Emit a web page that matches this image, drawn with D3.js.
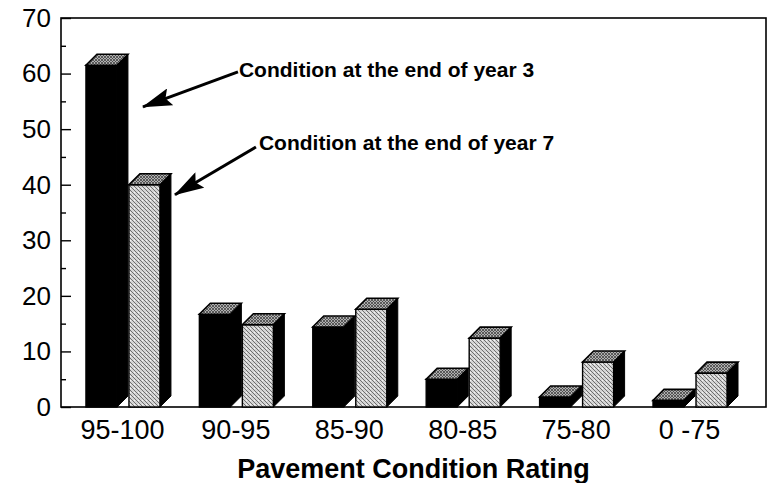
<!DOCTYPE html>
<html>
<head>
<meta charset="utf-8">
<script src="https://cdn.jsdelivr.net/npm/d3@7"></script>
<style>
  body { margin: 0; background: #fff; }
  svg { display: block; font-family: "Liberation Sans", Arial, Helvetica, sans-serif; }
</style>
</head>
<body>
<svg id="chart" width="767" height="483"></svg>
<script>
// DATA
// --------------------------------------
var categories = ['95-100', '90-95', '85-90', '80-85', '75-80', '0 -75'];
var year3 = [61.5, 16.7, 14.4, 5.0, 1.8, 1.2];
var year7 = [40.0, 14.8, 17.6, 12.4, 8.1, 6.1];
var majorTicks = [0, 10, 20, 30, 40, 50, 60, 70];
var minorTicks = [5, 15, 25, 35, 45, 55, 65];
var labels = ['Condition at the end of year 3', 'Condition at the end of year 7'];
var xTitle = 'Pavement Condition Rating';

// CONFIG
// --------------------------------------
var CONFIG = {
    left: 61, right: 766, top: 18, bottom: 407,
    barW: 31,   // front face width
    dx: 11,     // depth offset
    dy: 11
};

var svg = d3.select('#chart');

var x = d3.scaleBand()
    .domain(categories)
    .range([CONFIG.left, 751])
    .paddingInner(0.356)
    .paddingOuter(0.22);

var y = d3.scaleLinear()
    .domain([0, 70])
    .range([CONFIG.bottom, CONFIG.top]);

// patterns for the grey textures
var defs = svg.append('defs');

var pLight = defs.append('pattern')
    .attr('id', 'lightFill')
    .attr('patternUnits', 'userSpaceOnUse')
    .attr('width', 4).attr('height', 4);
pLight.append('rect').attr('width', 4).attr('height', 4).attr('fill', '#d4d4d4');
pLight.append('path').attr('d', 'M0,0 L4,4 M-1,3 L1,5 M3,-1 L5,1')
    .attr('stroke', '#6e6e6e').attr('stroke-width', 1);
pLight.append('rect').attr('x', 2).attr('y', 0).attr('width', 1).attr('height', 1).attr('fill', '#f4f4f4');

var pTop = defs.append('pattern')
    .attr('id', 'topFill')
    .attr('patternUnits', 'userSpaceOnUse')
    .attr('width', 3).attr('height', 3);
pTop.append('rect').attr('width', 3).attr('height', 3).attr('fill', '#b0b0b0');
pTop.append('path').attr('d', 'M0,0 L3,3 M3,0 L0,3')
    .attr('stroke', '#444').attr('stroke-width', 0.8);

defs.append('marker')
    .attr('id', 'arrowHead')
    .attr('markerUnits', 'userSpaceOnUse')
    .attr('viewBox', '0 0 30 18')
    .attr('markerWidth', 30).attr('markerHeight', 18)
    .attr('refX', 29).attr('refY', 9)
    .attr('orient', 'auto')
    .append('path')
    .attr('d', 'M0,0 L30,9 L0,18 L5,9 Z')
    .attr('fill', '#000');

// FRAME
// --------------------------------------
svg.append('rect')
    .attr('x', CONFIG.left).attr('y', CONFIG.top)
    .attr('width', CONFIG.right - CONFIG.left)
    .attr('height', CONFIG.bottom - CONFIG.top)
    .attr('fill', 'none')
    .attr('stroke', '#000')
    .attr('stroke-width', 1.6);

// BARS
// --------------------------------------
function drawBox(g, bx, v, frontFill) {
    var w = CONFIG.barW, dx = CONFIG.dx, dy = CONFIG.dy;
    var y0 = y(0), y1 = y(v);

    // side face
    g.append('path')
        .attr('d', 'M' + (bx + w) + ',' + y0 +
                   'L' + (bx + w) + ',' + y1 +
                   'L' + (bx + w + dx) + ',' + (y1 - dy) +
                   'L' + (bx + w + dx) + ',' + (y0 - dy) + 'Z')
        .attr('fill', '#000').attr('stroke', '#000').attr('stroke-width', 1);

    // front face
    g.append('rect')
        .attr('x', bx).attr('y', y1)
        .attr('width', w).attr('height', y0 - y1)
        .attr('fill', frontFill)
        .attr('stroke', '#000').attr('stroke-width', 1.4);

    // top face
    g.append('path')
        .attr('d', 'M' + bx + ',' + y1 +
                   'L' + (bx + w) + ',' + y1 +
                   'L' + (bx + w + dx) + ',' + (y1 - dy) +
                   'L' + (bx + dx) + ',' + (y1 - dy) + 'Z')
        .attr('fill', 'url(#topFill)')
        .attr('stroke', '#000').attr('stroke-width', 1.6);
}

var bars = svg.append('g').attr('class', 'bars');

categories.forEach(function(c, i){
    var bx = x(c);
    var g = bars.append('g');
    drawBox(g, bx, year3[i], '#000');
    drawBox(g, bx + CONFIG.barW + CONFIG.dx + 1, year7[i], 'url(#lightFill)');
});

// AXES
// --------------------------------------
var yAxis = svg.append('g')
    .attr('transform', 'translate(' + CONFIG.left + ',0)')
    .call(d3.axisLeft(y).tickValues(majorTicks).tickSize(-10).tickPadding(10));

svg.append('g')
    .attr('transform', 'translate(' + CONFIG.left + ',0)')
    .call(d3.axisLeft(y).tickValues(minorTicks).tickSize(-5).tickFormat(''))
    .select('.domain').remove();

yAxis.select('.domain').remove();
svg.selectAll('.tick line').attr('stroke', '#000').attr('stroke-width', 1.4);
yAxis.selectAll('text')
    .attr('fill', '#000')
    .style('font-size', '26px')
    .style('font-family', '"Liberation Sans", Arial, sans-serif');

var xAxis = svg.append('g')
    .attr('transform', 'translate(0,' + CONFIG.bottom + ')')
    .call(d3.axisBottom(x).tickSize(0).tickPadding(13));
xAxis.select('.domain').remove();
xAxis.selectAll('text')
    .attr('fill', '#000')
    .style('font-size', '27px')
    .style('font-family', '"Liberation Sans", Arial, sans-serif');

svg.append('text')
    .attr('x', (CONFIG.left + CONFIG.right) / 2)
    .attr('y', 478)
    .attr('text-anchor', 'middle')
    .style('font-size', '27px')
    .style('font-weight', 'bold')
    .text(xTitle);

// ANNOTATIONS
// --------------------------------------
var x0 = x(categories[0]);
var notes = [
    { text: labels[0], tx: x0 + 153, ty: y(59.4), sx: x0 + 152, sy: y(60.3), ex: x0 + 57, ey: y(54) },
    { text: labels[1], tx: x0 + 173, ty: y(46.25), sx: x0 + 170, sy: y(46.8), ex: x0 + 89, ey: y(38.2) }
];

notes.forEach(function(n){
    svg.append('line')
        .attr('x1', n.sx).attr('y1', n.sy)
        .attr('x2', n.ex).attr('y2', n.ey)
        .attr('stroke', '#000')
        .attr('stroke-width', 3)
        .attr('marker-end', 'url(#arrowHead)');

    svg.append('text')
        .attr('x', n.tx).attr('y', n.ty)
        .style('font-size', '21px')
        .style('font-weight', 'bold')
        .text(n.text);
});
</script>
</body>
</html>
